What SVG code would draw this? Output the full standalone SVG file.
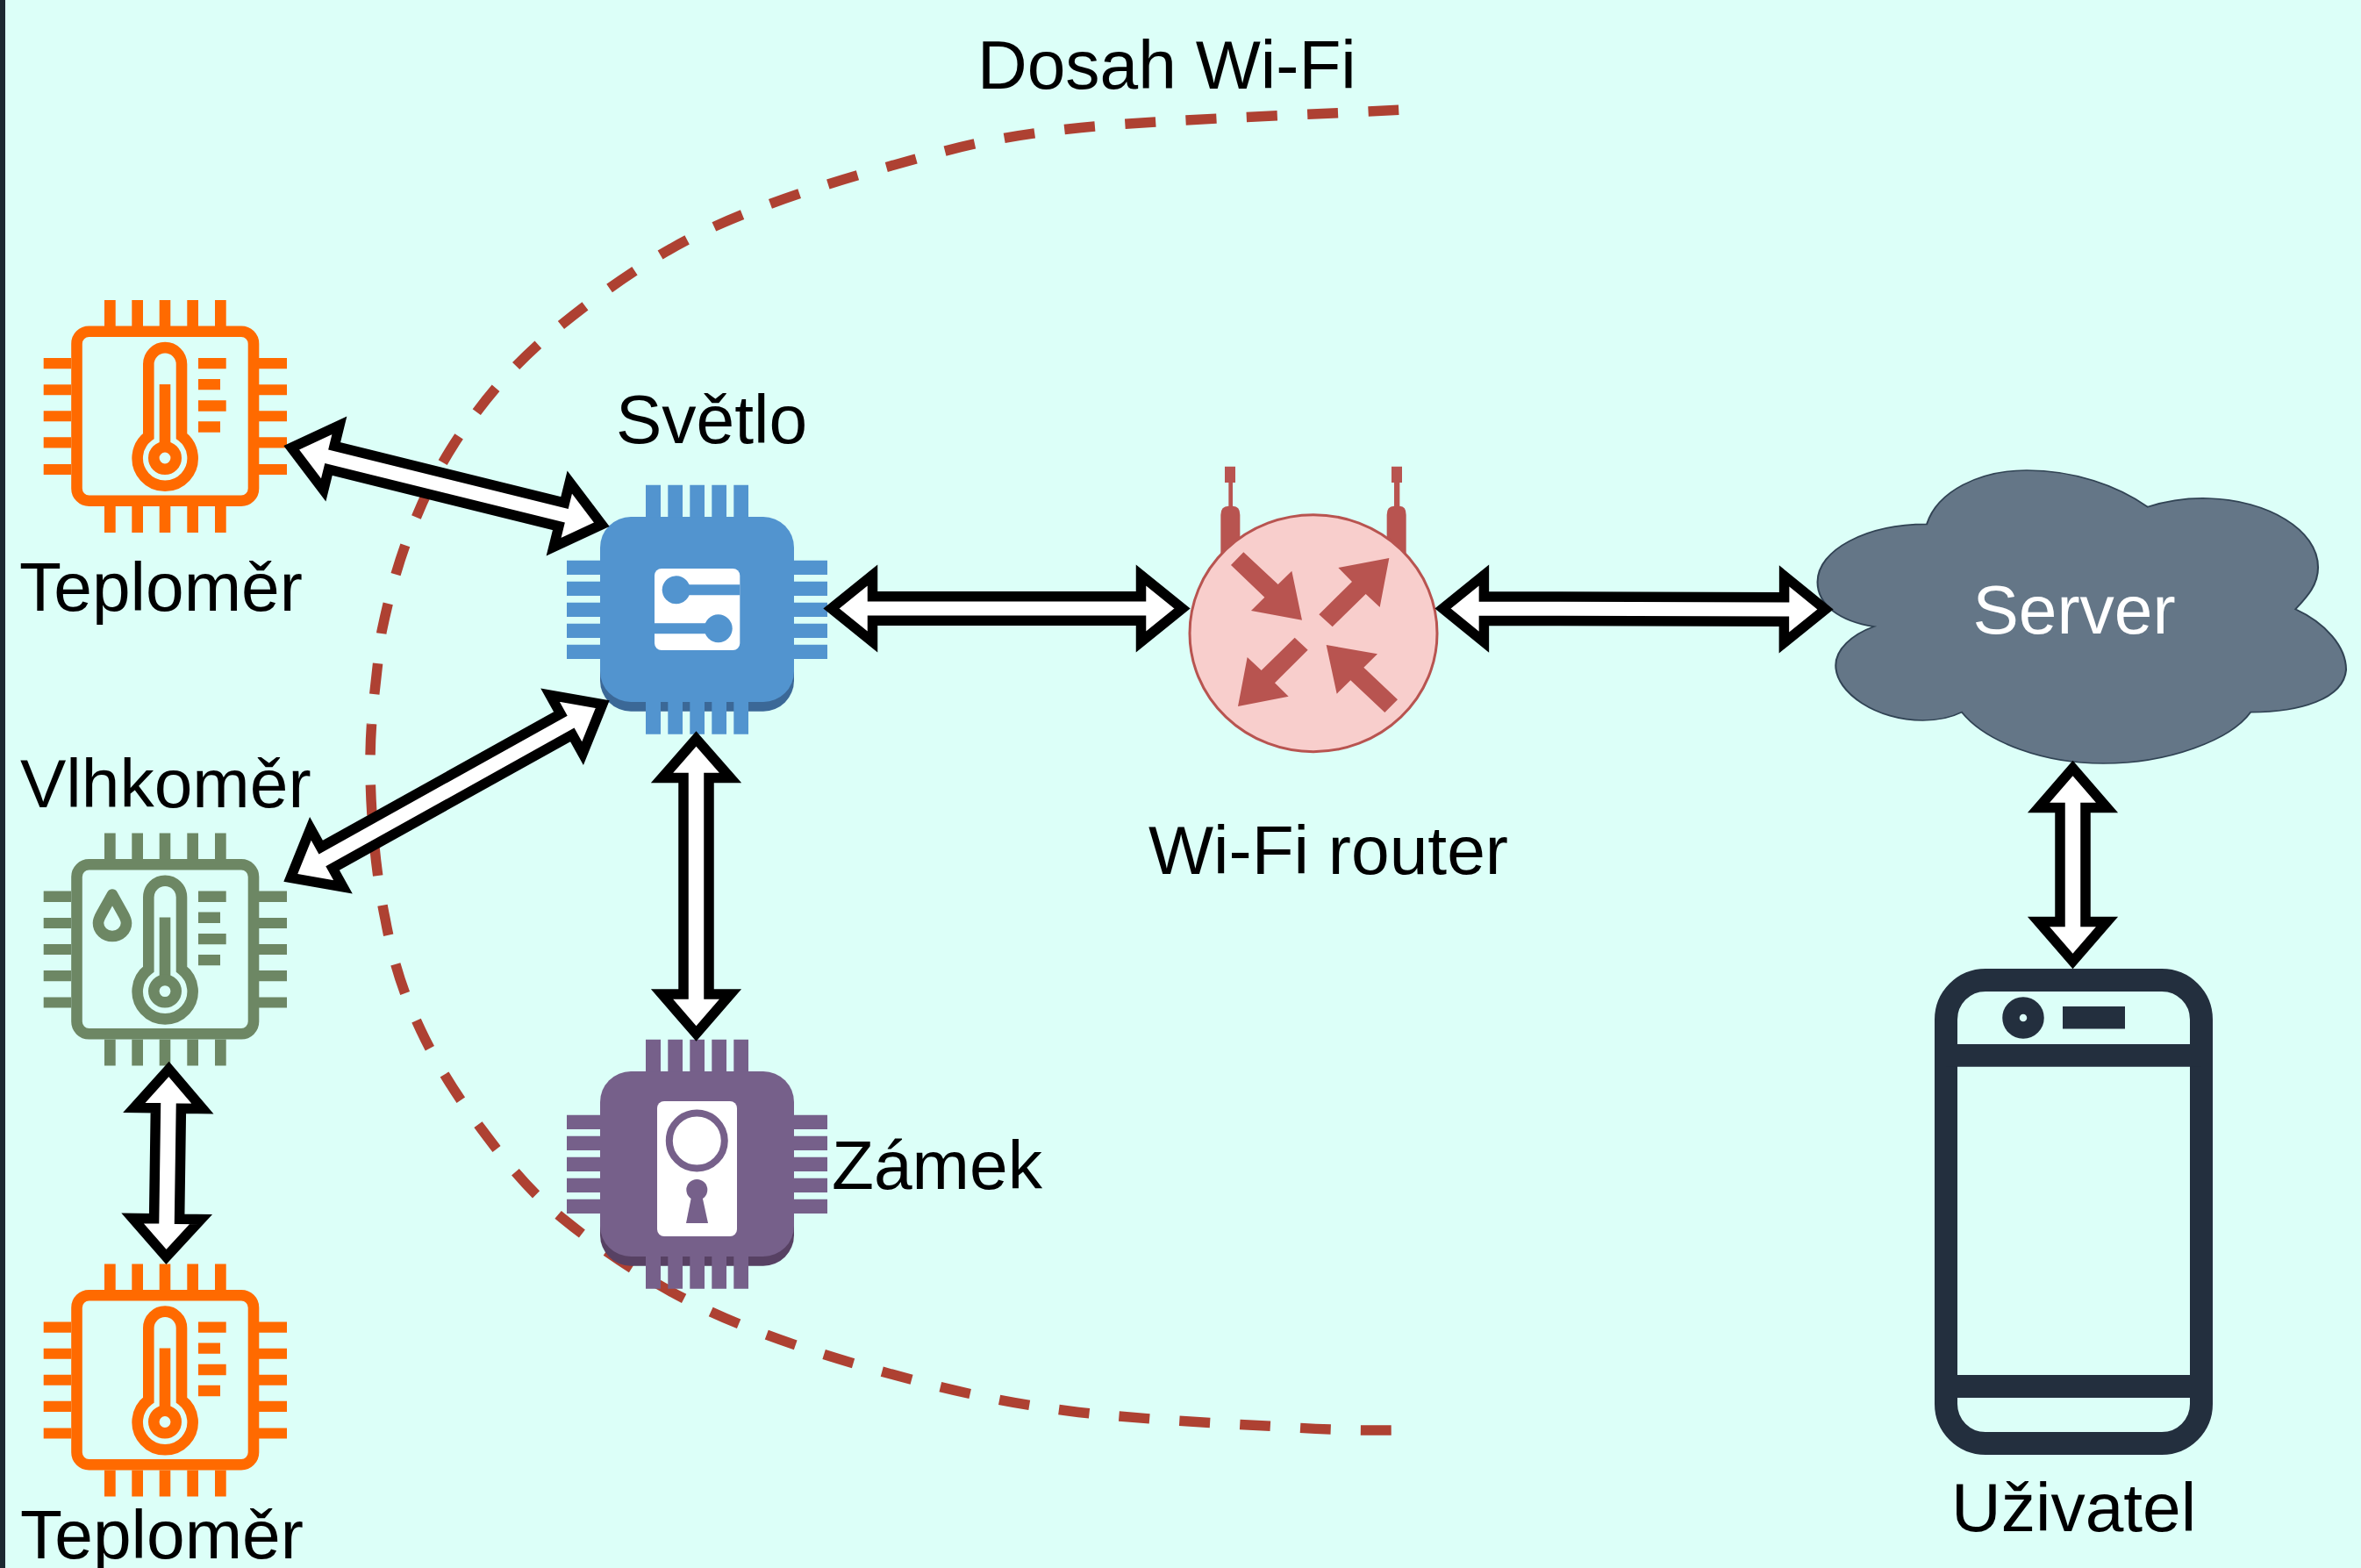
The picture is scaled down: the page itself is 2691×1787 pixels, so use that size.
<svg xmlns="http://www.w3.org/2000/svg" xmlns:xlink="http://www.w3.org/1999/xlink" width="2691" height="1787" viewBox="0 0 2691 1787">
<style>
text{font-family:"Liberation Sans",Arial,sans-serif;font-size:78.500px;fill:#000}
.arrow{fill:#fff;stroke:#000;stroke-width:11.5;stroke-linejoin:miter;stroke-miterlimit:12}
.thermo{fill:none;stroke-width:12.6}
.range{fill:none;stroke:#ae4132;stroke-width:11.5}
</style>
<defs>
<g id="chipOutline">
<rect x="87.5" y="377.7" width="201.5" height="193" rx="14" fill="none" stroke-width="12.6"/>
<path stroke="none" d="M119 342h12.7v30H119zM150.3 342H163v30h-12.7zM181.7 342h12.6v30h-12.6zM213.3 342H226v30h-12.7zM245 342h12.7v30H245zM119 577h12.7v30H119zM150.3 577H163v30h-12.7zM181.7 577h12.6v30h-12.6zM213.3 577H226v30h-12.7zM245 577h12.7v30H245zM49.7 408H81v12.3H49.7zM49.7 438.3H81v12H49.7zM49.7 468.3H81v12H49.7zM49.7 498.3H81v12.3H49.7zM49.7 529H81v12H49.7zM295 408h32v12.3h-32zM295 438.3h32v12h-32zM295 468.3h32v12h-32zM295 498.3h32v12.3h-32zM295 529h32v12h-32z"/>
<path stroke="none" d="M226 408h31.7v12.3H226zM226 432h25v12.3h-25zM226 456.3h31.7v12.4H226zM226 480.3h25v12.4h-25zM181.7 438h12.6v75h-12.6z"/>
<path class="thermo" d="M169.3 497V415A18.85 18.85 0 0 1 207 415V497A31.5 31.5 0 1 1 169.3 497Z"/>
<circle class="thermo" cx="188" cy="522" r="12.7"/>
</g>
<g id="awsChip">
<rect x="684" y="589" width="221" height="211" rx="35"/>
<path d="M736 552.7h17v36.5h-17zM761.3 552.7h16.7v36.5h-16.7zM786.3 552.7h16.7v36.5h-16.7zM811.3 552.7h16.7v36.5h-16.7zM836.3 552.7h16.7v36.5h-16.7zM736 800h17v36.7h-17zM761.3 800h16.7v36.7h-16.7zM786.3 800h16.7v36.7h-16.7zM811.3 800h16.7v36.7h-16.7zM836.3 800h16.7v36.7h-16.7zM646 638.7h38V655h-38zM646 662.7h38V679h-38zM646 686.7h38V703h-38zM646 710.7h38V727h-38zM646 734.7h38V751h-38zM905 638.7h38V655h-38zM905 662.7h38V679h-38zM905 686.7h38V703h-38zM905 710.7h38V727h-38zM905 734.7h38V751h-38z"/>
</g>
</defs>
<rect width="2691" height="1787" fill="#dcfff8"/>
<rect width="6" height="1787" fill="#1c2831"/>
<g id="wifi-range">
<path class="range" stroke-dasharray="35 34.300" stroke-dashoffset="34.300" d="M423.5 825.7C426 795 430 760 435 720C444 677 455 635 473 593C490 551 512 510 540 474C568 436 599 403 640 370C687 332 744.5 291 806 262C868 233 943 209 1012 190C1081 171 1120 158 1218 147C1316 136 1536 129 1600 125"/>
<path class="range" stroke-dasharray="34.800 34.100" d="M423.5 825.7C422.500 840 422 855 422 870C422 925 428 995 439 1047C449 1101 461 1135 480 1175C499 1215 522 1251 549 1287C576 1323 600 1355 643 1390C686 1425 744 1464 806 1493C868 1522 943 1546 1012 1565C1081 1584 1141 1598 1218 1608C1295 1618 1412 1623 1476 1627C1540 1631 1579 1630 1600 1630"/>
</g>
<g id="node-teplomer-1" fill="#ff6a00" stroke="#ff6a00">
<use xlink:href="#chipOutline" href="#chipOutline"/>
<text x="22" y="696" stroke="none">Teploměr</text>
</g>
<g id="node-vlhkomer" fill="#6d8764" stroke="#6d8764">
<use xlink:href="#chipOutline" href="#chipOutline" transform="translate(0 607.6)"/>
<path fill="none" stroke-width="12.6" stroke-linejoin="round" d="M128 1019.5L140 1041Q144 1048 144 1052A16 15 0 0 1 112 1052Q112 1048 116 1041Z"/>
<text x="23" y="920" stroke="none">Vlhkoměr</text>
</g>
<g id="node-teplomer-2" fill="#ff6a00" stroke="#ff6a00">
<use xlink:href="#chipOutline" href="#chipOutline" transform="translate(0 1098.5)"/>
<text x="23" y="1776" stroke="none">Teploměr</text>
</g>
<g id="node-svetlo">
<rect x="684" y="600" width="221" height="210.700" rx="35" fill="#3b6897"/>
<use xlink:href="#awsChip" href="#awsChip" fill="#5294cf"/>
<rect x="746" y="648" width="97.3" height="93" rx="8" fill="#fff"/>
<path fill="#5294cf" d="M770 666.3h73.3v12H770zM746 710.3h73v12h-73z"/>
<circle cx="770.7" cy="672.3" r="16" fill="#5294cf"/>
<circle cx="818.7" cy="716.3" r="16" fill="#5294cf"/>
<text x="702" y="504.500">Světlo</text>
</g>
<g id="node-zamek">
<rect x="684" y="1232" width="221" height="210.700" rx="35" fill="#574163"/>
<use xlink:href="#awsChip" href="#awsChip" fill="#76608a" transform="translate(0 632)"/>
<rect x="749" y="1255" width="91" height="154" rx="8" fill="#fff"/>
<circle cx="794.3" cy="1300" r="31.5" fill="none" stroke="#76608a" stroke-width="8"/>
<circle cx="794.3" cy="1356" r="12" fill="#76608a"/>
<path fill="#76608a" d="M788 1364H800.5L807 1394H782Z"/>
<text x="948" y="1354.500">Zámek</text>
</g>
<g id="node-router">
<g transform="translate(1320 510) scale(.33333)" fill="#b85450">
<path d="M228 65h36v55h-9v80q25 0 25 30v150h-66V230q0-30 27-30v-80h-13zM798 65h36v55h-8v80q22 0 22 30v150h-66V230q0-30 25-30v-80h-9z"/>
<ellipse cx="531" cy="635" rx="423" ry="405" fill="#f8cecc" stroke="#b85450" stroke-width="9"/>
<path d="M292 358L410 468L457 422L492 590L318 558L364 512L249 402ZM550 571L663 459L616 411L790 378L758 546L710 501L596 613ZM467 650L353 762L305 717L273 885L446 851L399 805L512 692ZM819 862L703 752L750 706L575 675L611 842L658 796L775 906Z"/>
</g>
<text x="1309" y="995.500">Wi-Fi router</text>
</g>
<g id="node-server">
<path transform="translate(2040 510) scale(.4152 .33333)" fill="#647687" stroke="#314354" stroke-width="5" d="M376 262C405 150 520 78 650 78C780 78 900 130 982 203C1040 180 1100 172 1150 174C1310 180 1450 280 1450 410C1450 470 1420 510 1388 553C1470 600 1527 680 1527 760C1520 860 1400 905 1265 905C1210 1000 1040 1080 860 1080C700 1080 540 1010 472 905C440 925 400 933 365 933C240 933 126 840 126 745C126 690 170 640 231 612C140 595 76 540 76 460C76 350 210 262 376 262Z"/>
<text x="2364" y="722" text-anchor="middle" style="fill:#fff">Server</text>
</g>
<g id="node-uzivatel" fill="#232f3e">
<rect x="2218" y="1117" width="291" height="528" rx="45" fill="none" stroke="#232f3e" stroke-width="26"/>
<path d="M2218 1190h291v25.700h-291zM2218 1567h291v26h-291zM2351 1147h71v25.500h-71z"/>
<circle cx="2306" cy="1160" r="14" fill="none" stroke="#232f3e" stroke-width="19.500"/>
<text x="2224" y="1745">Uživatel</text>
</g>
<text id="label-dosah" x="1114" y="101">Dosah Wi-Fi</text>
<g id="connectors">
<path class="arrow" d="M947.5 693.5L994.5 655.5V679.750H1300.500V655.500L1347.500 693.500L1300.500 731.500V707.250H994.500V731.500Z"/>
<path class="arrow" d="M1644.500 693.500L1691.400 655.600V679.900L2033.600 680.700V656.400L2080.500 694.500L2033.400 732.400V708.200L1691.400 707.400V731.600Z"/>
<path class="arrow" d="M332.200 510.300L368.700 558.500L374.500 535L636.900 599.800L631.100 623.300L685.800 597.700L649.300 549.500L643.500 573.100L381.100 508.300L386.900 484.700Z"/>
<path class="arrow" d="M331.300 1000.400L390.900 1010.800L379.100 989.600L652.300 837.400L664.100 858.600L686.700 802.600L627.100 792.200L638.900 813.400L365.700 965.600L353.900 944.400Z"/>
<path class="arrow" d="M793.500 842L832.500 886.500H808V1133H832.500L793.500 1178L754.500 1133H779V886.500H754.500Z"/>
<path class="arrow" d="M2362.500 875.500L2401.500 920.500H2377V1050.500H2401.500L2362.500 1095.500L2323.500 1050.500H2348V920.500H2323.500Z"/>
<path class="arrow" d="M192.500 1218.500L230.900 1263.500L206.400 1263.200L204.600 1389.200L229.100 1389.500L189.500 1432.500L151.100 1388.500L175.600 1388.800L177.400 1262.800L152.900 1262.500Z"/>
</g>
</svg>
